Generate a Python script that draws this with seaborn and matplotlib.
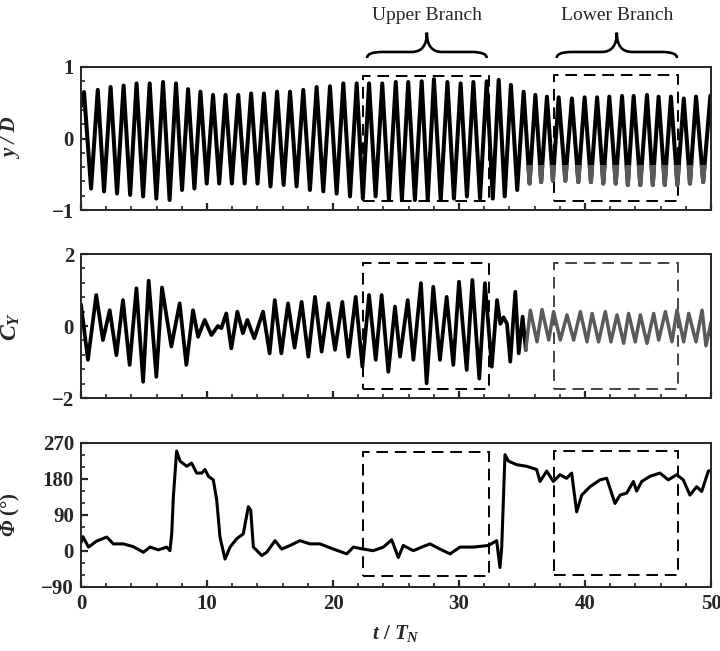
import numpy as np
import pandas as pd
import seaborn as sns
import matplotlib.pyplot as plt
from matplotlib.patches import Rectangle, PathPatch
from matplotlib.path import Path
from matplotlib.ticker import MultipleLocator
import matplotlib.transforms as mtransforms

# y/D : peaks and troughs of the displacement trace
yd_t = [0.0, 0.24, 0.80, 1.33, 1.83, 2.35, 2.86, 3.38, 3.90, 4.41, 4.93, 5.45, 5.98, 6.51, 7.03,
        7.54, 8.02, 8.50, 9.00, 9.48, 9.98, 10.48, 10.97, 11.47, 11.97, 12.48, 12.99, 13.50,
        14.01, 14.52, 15.04, 15.56, 16.08, 16.59, 17.11, 17.64, 18.17, 18.70, 19.23, 19.76,
        20.29, 20.82, 21.35, 21.88, 22.37, 22.86, 23.38, 23.91, 24.44, 24.98, 25.47, 25.97,
        26.50, 27.04, 27.52, 28.01, 28.55, 29.08, 29.60, 30.13, 30.63, 31.14, 31.67, 32.20,
        32.68, 33.15, 33.63, 34.12, 34.62, 35.13, 35.60, 36.06, 36.52, 36.98, 37.45, 37.91,
        38.44, 38.96, 39.47, 39.97, 40.47, 40.96, 41.45, 41.93, 42.44, 42.94, 43.40, 43.86,
        44.39, 44.92, 45.38, 45.84, 46.33, 46.82, 47.33, 47.84, 48.33, 48.81, 49.38, 49.95]
yd_v = [0.45, 0.65, -0.70, 0.68, -0.74, 0.72, -0.77, 0.74, -0.79, 0.77, -0.81, 0.77, -0.84,
        0.79, -0.86, 0.77, -0.72, 0.69, -0.70, 0.655, -0.63, 0.61, -0.63, 0.61, -0.63, 0.61,
        -0.63, 0.63, -0.63, 0.63, -0.67, 0.655, -0.65, 0.655, -0.67, 0.68, -0.72, 0.72, -0.74,
        0.73, -0.77, 0.77, -0.81, 0.77, -0.84, 0.77, -0.81, 0.77, -0.86, 0.79, -0.86, 0.79,
        -0.86, 0.80, -0.86, 0.83, -0.86, 0.79, -0.84, 0.77, -0.81, 0.79, -0.84, 0.80, -0.84,
        0.82, -0.81, 0.75, -0.72, 0.655, -0.63, 0.61, -0.61, 0.585, -0.59, 0.576, -0.59, 0.56,
        -0.61, 0.576, -0.61, 0.576, -0.63, 0.585, -0.63, 0.595, -0.65, 0.595, -0.65, 0.61,
        -0.65, 0.585, -0.65, 0.585, -0.65, 0.56, -0.63, 0.585, -0.61, 0.60]

# C_Y : lift coefficient turning points
cy_t = [0.0, 0.55, 1.21, 1.74, 2.28, 2.81, 3.33, 3.86, 4.40, 4.93, 5.37, 5.98, 6.43, 7.17, 7.83,
        8.36, 8.89, 9.29, 9.82, 10.35, 10.87, 11.14, 11.53, 11.93, 12.41, 12.85, 13.20, 13.75,
        14.45, 14.97, 15.38, 15.90, 16.43, 16.95, 17.51, 18.04, 18.57, 19.10, 19.63, 20.16,
        20.74, 21.22, 21.80, 22.33, 22.86, 23.39, 23.86, 24.39, 24.92, 25.32, 25.93, 26.38,
        26.98, 27.43, 27.96, 28.49, 29.02, 29.55, 30.00, 30.61, 31.06, 31.61, 32.06, 32.60,
        33.02, 33.28, 33.54, 33.81, 34.07, 34.47, 34.74, 35.05, 35.30]
cy_v = [0.60, -0.94, 0.86, -0.39, 0.44, -0.81, 0.72, -1.08, 1.05, -1.55, 1.26, -1.41, 1.07,
        -0.57, 0.63, -1.08, 0.44, -0.30, 0.17, -0.25, 0.0, -0.06, 0.35, -0.62, 0.40, -0.20,
        0.17, -0.34, 0.40, -0.76, 0.72, -0.76, 0.63, -0.60, 0.67, -0.85, 0.81, -0.71, 0.63,
        -0.66, 0.67, -0.85, 0.81, -1.13, 0.86, -0.94, 0.86, -1.27, 0.54, -0.85, 0.72, -0.94,
        1.19, -1.59, 1.09, -0.94, 0.81, -1.08, 1.23, -1.22, 1.28, -1.46, 1.19, -1.13, 0.72,
        0.06, 0.24, 0.06, -0.99, 0.95, -0.76, 0.26, -0.67]
# grey part of the C_Y trace (lower branch)
cy2_t = [35.30, 35.66, 36.19, 36.59, 37.12, 37.51, 38.04, 38.57, 39.10, 39.63, 40.16, 40.56,
         41.08, 41.61, 42.06, 42.54, 43.07, 43.46, 43.99, 44.39, 44.92, 45.45, 45.85, 46.38,
         46.90, 47.30, 47.83, 48.23, 48.81, 49.29, 49.60, 50.0]
cy2_v = [-0.67, 0.44, -0.44, 0.46, -0.39, 0.40, -0.39, 0.31, -0.39, 0.40, -0.44, 0.35, -0.44,
         0.40, -0.44, 0.31, -0.48, 0.35, -0.44, 0.31, -0.48, 0.35, -0.39, 0.40, -0.44, 0.44,
         -0.44, 0.35, -0.44, 0.44, -0.55, 0.10]

# phase angle (deg)
ph_t = [0.0, 0.15, 0.6, 1.24, 2.04, 2.57, 3.36, 4.15, 4.95, 5.48, 6.14, 6.8, 7.06, 7.2, 7.33,
        7.59, 7.86, 8.39, 8.78, 9.18, 9.58, 9.84, 10.11, 10.5, 10.77, 11.03, 11.43, 11.83,
        12.36, 12.88, 13.28, 13.47, 13.68, 14.34, 14.74, 15.4, 15.93, 16.59, 17.38, 18.18,
        18.97, 20.03, 21.09, 21.62, 22.4, 23.2, 24.0, 24.66, 25.18, 25.58, 26.38, 27.04, 27.7,
        28.49, 29.29, 30.08, 31.14, 32.33, 32.99, 33.25, 33.39, 33.65, 33.92, 34.58, 35.37,
        36.16, 36.43, 36.96, 37.49, 38.01, 38.54, 38.94, 39.34, 39.74, 40.4, 41.19, 41.72,
        42.38, 42.78, 43.31, 43.84, 44.1, 44.5, 45.16, 45.95, 46.61, 47.28, 47.8, 48.33,
        48.86, 49.26, 49.79, 50.0]
ph_v = [20, 35, 9, 24, 34, 17, 17, 10, -4, 9, 2, 9, 0, 42, 135, 249, 224, 211, 219, 194, 194,
        203, 186, 177, 127, 34, -21, 9, 30, 42, 110, 101, 9, -12, -4, 25, 4, 13, 25, 17, 17, 4,
        -8, 9, 4, 0, 9, 27, -17, 13, 0, 9, 17, 4, -8, 9, 9, 13, 25, -42, 9, 240, 224, 215, 211,
        203, 173, 199, 173, 190, 181, 194, 97, 139, 160, 177, 181, 118, 139, 144, 173, 149, 173,
        186, 194, 177, 190, 177, 139, 160, 148, 199, 200]

# dashed windows: (t0, t1) and y extents per panel
win_t = [(22.4, 32.4), (37.5, 47.4)]
win_y = [[(-0.87, 0.88), (-0.87, 0.89)], [(-1.76, 1.74), (-1.76, 1.74)], [(-64, 246), (-60, 250)]]
labels = ['Upper Branch', 'Lower Branch']
brace_t = [(22.7, 32.2), (37.75, 47.3)]

sns.set_style("ticks")
plt.rcParams['font.family'] = ['Liberation Serif', 'DejaVu Serif']
plt.rcParams['font.weight'] = 'bold'
plt.rcParams['mathtext.fontset'] = 'custom'
plt.rcParams['mathtext.rm'] = 'Liberation Serif'
plt.rcParams['mathtext.it'] = 'Liberation Serif:italic'
plt.rcParams['mathtext.bf'] = 'Liberation Serif:bold'
plt.rcParams['mathtext.bfit'] = 'Liberation Serif:italic:bold'

fig = plt.figure(figsize=(7.2, 6.51), dpi=100)
ax1 = fig.add_axes([0.1125, 0.6774, 0.875, 0.2197])
ax2 = fig.add_axes([0.1125, 0.3886, 0.875, 0.2212])
ax3 = fig.add_axes([0.1125, 0.0988, 0.875, 0.2212])

kw = dict(estimator=None, sort=False, solid_joinstyle='round', solid_capstyle='round')
sns.lineplot(x=yd_t, y=yd_v, ax=ax1, color='black', lw=2.9, **kw)
sns.lineplot(x=yd_t, y=yd_v, ax=ax1, color='#5a5a5a', lw=2.9, **kw)
grey = Rectangle((35.3, -1.0), 15, 0.63, transform=ax1.transData)
ax1.lines[-1].set_clip_path(grey)

sns.lineplot(x=cy_t, y=cy_v, ax=ax2, color='black', lw=2.7, **kw)
sns.lineplot(x=cy2_t, y=cy2_v, ax=ax2, color='#5a5a5a', lw=2.5, **kw)

sns.lineplot(x=ph_t, y=ph_v, ax=ax3, color='black', lw=2.2, **kw)

lims = [(-1, 1), (-2, 2), (-90, 270)]
majors = [1, 2, 90]
minors = [0.2, 0.4, 30]
for i, ax in enumerate([ax1, ax2, ax3]):
    ax.set_xlim(0, 50)
    ax.set_ylim(*lims[i])
    ax.xaxis.set_major_locator(MultipleLocator(10))
    ax.xaxis.set_minor_locator(MultipleLocator(2))
    ax.yaxis.set_major_locator(MultipleLocator(majors[i]))
    ax.yaxis.set_minor_locator(MultipleLocator(minors[i]))
    ax.tick_params(which='major', direction='in', length=5, width=1.6, labelsize=15, pad=5)
    ax.tick_params(which='minor', direction='in', length=3, width=1.2)
    for s in ax.spines.values():
        s.set_linewidth(1.4)
    for k, (t0, t1) in enumerate(win_t):
        y0, y1 = win_y[i][k]
        c = '#444444' if (i == 1 and k == 1) else 'black'
        ax.add_patch(Rectangle((t0, y0), t1 - t0, y1 - y0, fill=False, ec=c, lw=1.4,
                               ls=(0, (6, 3.5))))
    if i < 2:
        ax.set_xticklabels([])
    ax.set_xlabel('')

ax1.set_ylabel('y / D', fontstyle='italic', fontweight='bold', fontsize=15)
ax2.set_ylabel(r'$C_Y$', fontsize=17)
ax3.set_ylabel(r'$\mathbfit{\Phi}$ (°)', fontsize=15, fontweight='bold')
ax3.set_xlabel(r'$\mathbfit{t}$ / $\mathbfit{T}_\mathbfit{N}$', fontsize=15, fontweight='bold')
for ax in [ax1, ax2, ax3]:
    ax.yaxis.set_label_coords(-0.093, 0.5)
ax3.xaxis.set_label_coords(0.5, -0.25)

# curly braces above the top panel
tr = mtransforms.blended_transform_factory(ax1.transData, ax1.transAxes)
ye, yh, ytip = 1.063, 1.105, 1.24
for (b0, b1), lab in zip(brace_t, labels):
    bc = 0.5 * (b0 + b1)
    d = 1.2
    verts = [(b0, ye), (b0, yh), (b0 + d, yh),
             (bc - d, yh), (bc, yh), (bc, ytip),
             (bc, yh), (bc + d, yh),
             (b1 - d, yh), (b1, yh), (b1, ye)]
    codes = [Path.MOVETO, Path.CURVE3, Path.CURVE3,
             Path.LINETO, Path.CURVE3, Path.CURVE3,
             Path.CURVE3, Path.CURVE3,
             Path.LINETO, Path.CURVE3, Path.CURVE3]
    ax1.add_patch(PathPatch(Path(verts, codes), fill=False, lw=1.9, ec='black',
                            transform=tr, clip_on=False))
    ax1.text(bc, 1.36, lab, transform=tr, ha='center', va='center', fontsize=14,
             fontweight='normal')

fig.savefig('out.png', dpi=100)
